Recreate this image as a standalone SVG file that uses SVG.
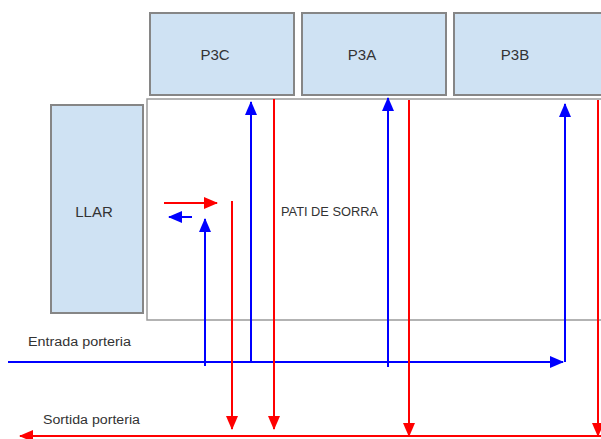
<svg xmlns="http://www.w3.org/2000/svg" width="601" height="439" viewBox="0 0 601 439">
<defs>
<marker id="ab" markerUnits="userSpaceOnUse" markerWidth="14" markerHeight="12" refX="13" refY="6" orient="auto"><path d="M0,0 L14,6 L0,12 Z" fill="#0000ff"/></marker>
<marker id="ar" markerUnits="userSpaceOnUse" markerWidth="14" markerHeight="12" refX="13" refY="6" orient="auto"><path d="M0,0 L14,6 L0,12 Z" fill="#ff0000"/></marker>
</defs>
<style>
.box{fill:#cfe2f3;stroke:#868686;stroke-width:2}
.area{fill:#ffffff;stroke:#9a9a9a;stroke-width:1.5}
.t{font-family:"Liberation Sans",Arial,sans-serif;fill:#333333}
.lbl{font-size:15px;text-anchor:middle}
.b{stroke:#0000ff;stroke-width:2;fill:none}
.r{stroke:#ff0000;stroke-width:2;fill:none}
</style>
<rect width="601" height="439" fill="#ffffff"/>
<g id="pati">
<rect class="area" x="147" y="99" width="460" height="221"/>
<text class="t" x="281" y="216" font-size="12" textLength="97" lengthAdjust="spacingAndGlyphs">PATI DE SORRA</text>
</g>
<g id="p3c"><rect class="box" x="150" y="13" width="144" height="82"/><text class="t lbl" x="215" y="60">P3C</text></g>
<g id="p3a"><rect class="box" x="302" y="13" width="144" height="82"/><text class="t lbl" x="362" y="60">P3A</text></g>
<g id="p3b"><rect class="box" x="454" y="13" width="160" height="82"/><text class="t lbl" x="515" y="60">P3B</text></g>
<g id="llar"><rect class="box" x="51" y="105" width="92" height="208"/><text class="t lbl" x="94" y="217">LLAR</text></g>
<g id="labels">
<text class="t" x="28" y="346" font-size="12" textLength="103" lengthAdjust="spacingAndGlyphs">Entrada porteria</text>
<text class="t" x="43" y="424" font-size="12" textLength="97" lengthAdjust="spacingAndGlyphs">Sortida porteria</text>
</g>
<g id="connectors">
<line class="b" x1="8" y1="362" x2="563" y2="362" marker-end="url(#ab)"/>
<line class="r" x1="601" y1="436" x2="20" y2="436" marker-end="url(#ar)"/>
<line class="b" x1="205" y1="366" x2="205" y2="219" marker-end="url(#ab)"/>
<line class="b" x1="251" y1="362" x2="251" y2="102" marker-end="url(#ab)"/>
<line class="b" x1="388" y1="367" x2="388" y2="98" marker-end="url(#ab)"/>
<line class="b" x1="565" y1="362" x2="565" y2="104" marker-end="url(#ab)"/>
<line class="r" x1="232" y1="201" x2="232" y2="429" marker-end="url(#ar)"/>
<line class="r" x1="274" y1="99" x2="274" y2="429" marker-end="url(#ar)"/>
<line class="r" x1="409" y1="100" x2="409" y2="436" marker-end="url(#ar)"/>
<line class="r" x1="598" y1="100" x2="598" y2="436" marker-end="url(#ar)"/>
<line class="r" x1="164" y1="203" x2="217" y2="203" marker-end="url(#ar)"/>
<line class="b" x1="192" y1="217" x2="169" y2="217" marker-end="url(#ab)"/>
</g>
</svg>
